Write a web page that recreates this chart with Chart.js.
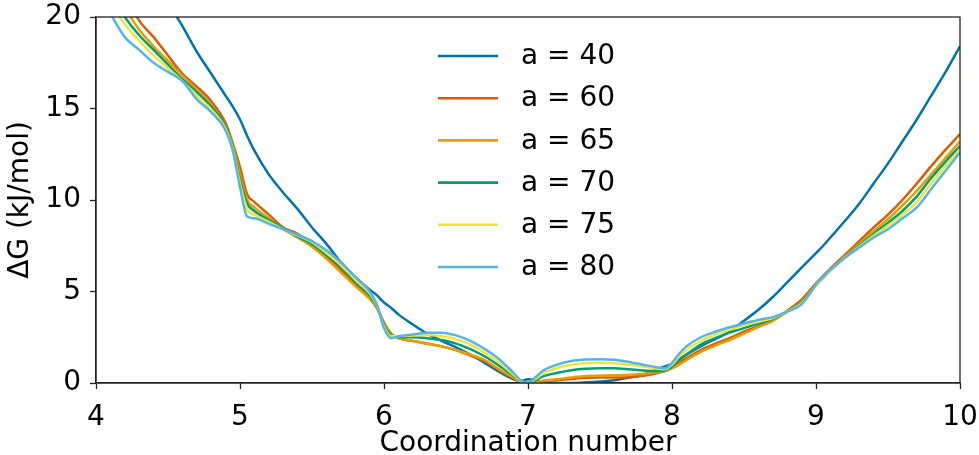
<!DOCTYPE html>
<html>
<head>
<meta charset="utf-8">
<script src="https://cdn.jsdelivr.net/npm/chart.js@4"></script>
<style>
  html, body { margin: 0; padding: 0; background: #fff; }
  #wrap { width: 979px; height: 455px; }
</style>
</head>
<body>
<div id="wrap"><canvas id="dg" width="979" height="455"></canvas></div>
<script>
// coordination number grid, denser around the integer kinks
const cn = [4.0,4.1,4.2,4.3,4.4,4.5,4.6,4.7,4.8,4.9,4.95,5.0,5.05,5.1,5.2,5.3,5.4,5.5,5.6,5.7,5.8,5.9,5.95,
  6.0,6.05,6.1,6.2,6.3,6.4,6.5,6.6,6.7,6.8,6.9,6.95,7.0,7.05,7.1,7.2,7.3,7.4,7.5,7.6,7.7,7.8,7.9,7.95,
  8.0,8.05,8.1,8.2,8.3,8.4,8.5,8.6,8.7,8.8,8.9,8.95,9.0,9.05,9.1,9.2,9.3,9.4,9.5,9.6,9.7,9.8,9.9,10.0];

const labels = ['a = 40', 'a = 60', 'a = 65', 'a = 70', 'a = 75', 'a = 80'];
const colors = ['#0072B2', '#D55E00', '#E69F00', '#009E73', '#F0E442', '#56B4E9'];

// free energy profiles, kJ/mol
const dg40 = [27.5,26.1,24.8,23.4,22.1,20.8,19.5,18.1,16.9,15.7,15.1,14.4,13.5,12.7,11.4,10.4,9.5,8.5,7.6,6.6,5.8,5.1,4.8,
  4.4,4.1,3.75,3.2,2.7,2.3,1.95,1.55,1.1,0.6,0.2,0.1,0.2,0.15,0.05,0.0,0.0,0.03,0.08,0.15,0.3,0.45,0.75,0.9,
  1.05,1.3,1.55,2.0,2.4,2.8,3.4,4.0,4.7,5.5,6.3,6.7,7.1,7.5,7.95,8.85,9.8,10.9,12.0,13.2,14.4,15.7,17.0,18.4];
const dg60 = [24.0,22.5,21.2,19.8,18.9,17.9,16.9,16.2,15.4,14.2,13.1,11.8,10.3,9.9,9.2,8.5,8.15,7.55,6.95,6.2,5.4,4.7,4.1,
  3.3,2.7,2.45,2.3,2.15,2.0,1.8,1.5,1.2,0.7,0.25,0.05,0.0,0.05,0.1,0.15,0.22,0.28,0.3,0.3,0.32,0.4,0.55,0.65,
  0.85,1.1,1.35,1.8,2.15,2.45,2.8,3.1,3.45,3.95,4.55,5.0,5.45,5.85,6.25,7.0,7.75,8.5,9.2,10.0,10.9,11.85,12.75,13.6];
const dg65 = [23.3,21.8,20.5,19.3,18.4,17.6,16.8,16.0,15.2,14.0,13.0,11.4,10.0,9.6,9.0,8.4,7.95,7.45,6.8,6.05,5.3,4.6,4.1,
  3.3,2.7,2.45,2.3,2.15,2.0,1.8,1.55,1.25,0.75,0.3,0.05,0.0,0.05,0.12,0.2,0.3,0.38,0.4,0.42,0.45,0.5,0.6,0.65,
  0.8,1.0,1.25,1.7,2.05,2.35,2.7,3.05,3.4,3.9,4.45,4.9,5.35,5.75,6.15,6.9,7.6,8.3,8.95,9.7,10.5,11.4,12.3,13.2];
const dg70 = [22.8,21.3,20.0,19.0,18.2,17.4,16.6,15.9,15.1,14.0,12.9,11.1,9.8,9.4,8.9,8.45,8.0,7.6,7.0,6.35,5.55,4.8,4.2,
  3.2,2.6,2.5,2.5,2.45,2.35,2.15,1.85,1.45,0.95,0.4,0.1,0.0,0.15,0.35,0.55,0.7,0.78,0.8,0.8,0.75,0.68,0.65,0.68,
  0.9,1.25,1.55,2.1,2.45,2.75,3.0,3.25,3.5,3.9,4.4,4.85,5.35,5.75,6.15,6.85,7.5,8.15,8.75,9.4,10.2,11.2,12.1,12.95];
const dg75 = [22.3,20.8,19.6,18.7,17.9,17.2,16.5,15.7,14.95,13.9,12.8,10.9,9.5,9.2,8.8,8.4,8.05,7.7,7.1,6.45,5.65,4.9,4.25,
  3.1,2.55,2.55,2.6,2.62,2.55,2.4,2.1,1.65,1.1,0.45,0.12,0.0,0.22,0.5,0.82,1.0,1.08,1.1,1.08,1.0,0.9,0.78,0.75,
  1.0,1.45,1.8,2.3,2.65,2.9,3.15,3.35,3.55,3.9,4.35,4.8,5.35,5.75,6.15,6.85,7.45,8.05,8.6,9.2,9.9,10.9,11.85,12.75];
const dg80 = [21.8,20.2,18.9,18.2,17.5,17.0,16.5,15.5,14.8,13.8,12.7,10.7,9.1,9.0,8.7,8.4,8.1,7.75,7.25,6.6,5.8,5.0,4.3,
  3.0,2.45,2.55,2.65,2.75,2.75,2.6,2.3,1.85,1.3,0.55,0.15,0.0,0.3,0.65,1.0,1.2,1.28,1.3,1.27,1.15,1.0,0.85,0.8,
  1.1,1.6,2.0,2.5,2.8,3.05,3.25,3.45,3.6,3.9,4.3,4.8,5.4,5.8,6.2,6.85,7.4,7.95,8.4,9.0,9.6,10.6,11.6,12.6];

const series = [dg40, dg60, dg65, dg70, dg75, dg80];
const xTicks = [4, 5, 6, 7, 8, 9, 10];
const yTicks = [0, 5, 10, 15, 20];

const FONT = 'DejaVu Sans';
const INK = '#222';

// full box around the plot area
const frame = {
  id: 'frame',
  afterDatasetsDraw(chart) {
    const {ctx, chartArea: a} = chart;
    ctx.save();
    ctx.strokeStyle = INK;
    ctx.lineWidth = 1.3;
    ctx.strokeRect(a.left, a.top, a.right - a.left, a.bottom - a.top);
    ctx.restore();
  }
};

// legend box inside the axes
const innerLegend = {
  id: 'innerLegend',
  afterDraw(chart) {
    const ctx = chart.ctx;
    ctx.save();
    ctx.font = '28px "' + FONT + '"';
    ctx.textBaseline = 'middle';
    ctx.fillStyle = '#000';
    chart.data.datasets.forEach((ds, i) => {
      const y = 56 + i * 42.2;
      ctx.strokeStyle = ds.borderColor;
      ctx.lineWidth = 2.6;
      ctx.beginPath();
      ctx.moveTo(438, y);
      ctx.lineTo(498, y);
      ctx.stroke();
      ctx.fillText(ds.label, 521, y + 1);
    });
    ctx.restore();
  }
};

// fixed axis box: no extra room for edge labels
const fitX = s => { s.height = 72; s.paddingLeft = 0; s.paddingRight = 0; };
const fitY = s => { s.width = 96; s.paddingTop = 0; s.paddingBottom = 0; };

new Chart(document.getElementById('dg'), {
  type: 'line',
  data: {
    datasets: series.map((vals, i) => ({
      label: labels[i],
      data: cn.map((x, k) => ({x: x, y: vals[k]})),
      borderColor: colors[i],
      backgroundColor: colors[i],
      borderWidth: 2.5,
      pointRadius: 0,
      cubicInterpolationMode: 'monotone',
      order: series.length - 1 - i
    }))
  },
  options: {
    responsive: false,
    devicePixelRatio: 1,
    animation: false,
    layout: {padding: {left: 0, top: 17, right: 19, bottom: 0}},
    plugins: {legend: {display: false}, tooltip: {enabled: false}},
    scales: {
      x: {
        type: 'linear',
        min: 4, max: 10,
        afterFit: fitX,
        afterBuildTicks: s => { s.ticks = xTicks.map(v => ({value: v})); },
        grid: {drawOnChartArea: false, drawTicks: true, tickLength: 6, tickColor: INK, tickWidth: 1.3},
        border: {display: true, color: INK, width: 1.3},
        ticks: {color: '#000', font: {family: FONT, size: 28}, padding: 12, maxRotation: 0},
        title: {display: true, text: 'Coordination number', color: '#000',
                font: {family: FONT, size: 28}, padding: {top: 0, bottom: -6}}
      },
      y: {
        min: 0, max: 20,
        afterFit: fitY,
        afterBuildTicks: s => { s.ticks = yTicks.map(v => ({value: v})); },
        grid: {drawOnChartArea: false, drawTicks: true, tickLength: 6, tickColor: INK, tickWidth: 1.3},
        border: {display: true, color: INK, width: 1.3},
        ticks: {color: '#000', font: {family: FONT, size: 28}, padding: 9},
        title: {display: true, text: 'ΔG (kJ/mol)', color: '#000',
                font: {family: FONT, size: 28}, padding: {top: 4, bottom: 0}}
      }
    }
  },
  plugins: [frame, innerLegend]
});
</script>
</body>
</html>
